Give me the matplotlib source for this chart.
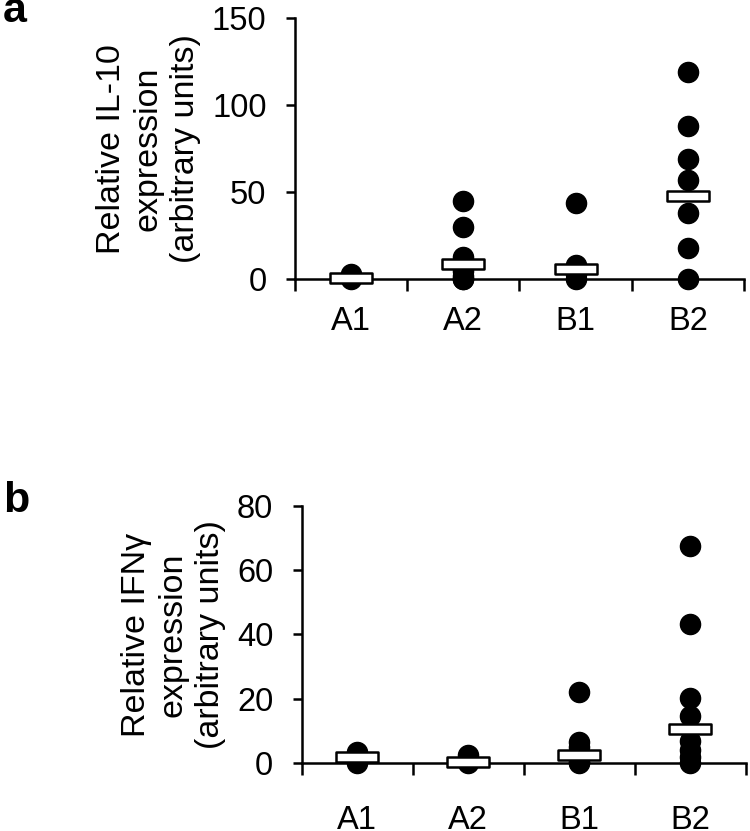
import matplotlib.pyplot as plt
from matplotlib.path import Path
import numpy as np

plt.rcParams['font.family'] = ['Liberation Sans', 'DejaVu Sans']

groups = ['A1', 'A2', 'B1', 'B2']

# panel a: relative IL-10 expression
il10_vals = [[3, 1.5, 0.5, 0],
             [45, 30, 13, 5, 2, 0, 0],
             [44, 8, 3, 0],
             [119, 88, 69, 57, 38, 18, 0]]
il10_med = [1, 8.6, 5.7, 48]

# panel b: relative IFNγ expression
ifng_vals = [[3.6, 2, 1, 0],
             [2.6, 0.5, 0],
             [22, 6.7, 5, 2, 0.5, 0],
             [67.5, 43.3, 20.2, 14.7, 7, 4, 2, 0]]
ifng_med = [1.8, 0.4, 2.5, 10.5]

# wide flat rectangle marker for the median bar
bar_marker = Path([(-2.2, -0.5), (2.2, -0.5), (2.2, 0.5), (-2.2, 0.5), (-2.2, -0.5)],
                  [Path.MOVETO, Path.LINETO, Path.LINETO, Path.LINETO, Path.CLOSEPOLY])

fig = plt.figure(figsize=(7.5, 8.31), dpi=100)
ax_a = fig.add_axes([0.3933, 0.6639, 0.5987, 0.3141])
ax_b = fig.add_axes([0.4023, 0.0815, 0.5920, 0.3100])


def draw_panel(ax, vals, med, ymax, ystep, ylabel, xpad):
    for i, v in enumerate(vals):
        ax.plot([i] * len(v), v, 'o', color='black', markersize=14.5,
                clip_on=False, zorder=3)
    ax.plot(range(len(med)), med, linestyle='none', marker=bar_marker,
            markersize=30, markerfacecolor='white', markeredgecolor='black',
            markeredgewidth=1.8, clip_on=False, zorder=4)

    ax.set_xlim(-0.5, len(groups) - 0.5)
    ax.set_ylim(0, ymax)
    ax.set_yticks(np.arange(0, ymax + 1, ystep))
    ax.set_xticks(range(len(groups)))
    ax.set_xticklabels(groups)
    ax.set_xticks(np.arange(-0.5, len(groups)), minor=True)

    for s in ['top', 'right']:
        ax.spines[s].set_visible(False)
    for s in ['left', 'bottom']:
        ax.spines[s].set_linewidth(1.8)

    ax.tick_params(axis='y', direction='out', length=6.5, width=1.8,
                   labelsize=23.5, pad=14)
    ax.tick_params(axis='x', which='major', length=0, labelsize=23.5, pad=xpad)
    ax.tick_params(axis='x', which='minor', direction='out', length=8.6,
                   width=1.8)
    ax.set_ylabel(ylabel, fontsize=24.5, linespacing=1.25, labelpad=8)


draw_panel(ax_a, il10_vals, il10_med, 150, 50,
           'Relative IL-10\nexpression\n(arbitrary units)', 19)
draw_panel(ax_b, ifng_vals, ifng_med, 80, 20,
           'Relative IFNγ\nexpression\n(arbitrary units)', 30)

fig.text(0.004, 0.9735, 'a', fontsize=31, fontweight='bold', va='baseline')
fig.text(0.004, 0.3839, 'b', fontsize=31, fontweight='bold', va='baseline')

fig.savefig('out.png', dpi=100)
